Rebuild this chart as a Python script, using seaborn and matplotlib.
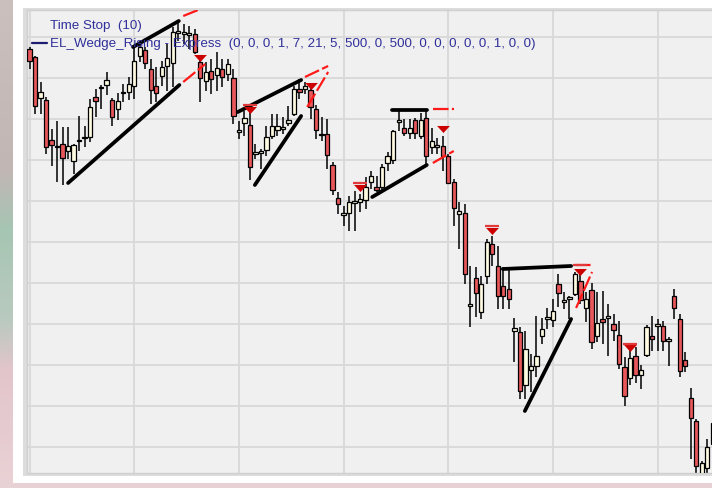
import numpy as np
import pandas as pd
import matplotlib
matplotlib.use('Agg')
import matplotlib.pyplot as plt
from matplotlib.patches import Rectangle
from matplotlib.lines import Line2D
from matplotlib.colors import to_rgb
import seaborn as sns

# OHLC bars (price unit = 1 screen pixel)
opens = [439, 431, 390, 388, 348, 341, 344, 337, 327, 347,
         350, 351, 391, 400, 403, 388, 379, 395, 396, 402,
         432, 438, 419, 402, 412, 422, 425, 455, 454, 453,
         454, 426, 407, 417, 413, 419, 414, 410, 356, 365,
         363, 334, 335, 338, 352, 358, 359, 365, 374, 399,
         399, 398, 379, 353, 354, 323, 290, 273, 275, 285,
         286, 288, 306, 301, 301, 325, 328, 366, 360, 355,
         368, 352, 370, 341, 341, 342, 332, 306, 274, 275,
         182, 210, 176, 212, 244, 222, 202, 199, 157, 156,
         103, 118, 122, 152, 169, 168, 204, 186, 189, 194,
         207, 180, 198, 152, 169, 170, 164, 153, 121, 110,
         132, 113, 133, 152, 162, 162, 147, 192, 169, 128,
         90, 67, 12, 20, 44]
highs = [441, 432, 406, 391, 359, 367, 361, 361, 344, 372,
         362, 389, 399, 403, 416, 390, 395, 404, 411, 442,
         444, 441, 429, 421, 427, 444, 461, 467, 464, 462,
         459, 431, 426, 429, 436, 429, 429, 419, 367, 377,
         377, 344, 339, 362, 374, 374, 371, 382, 402, 409,
         406, 404, 383, 371, 369, 326, 296, 282, 292, 297,
         294, 311, 317, 312, 324, 336, 358, 377, 369, 369,
         370, 375, 377, 360, 350, 352, 334, 309, 286, 284,
         222, 221, 212, 249, 252, 242, 221, 219, 170, 161,
         157, 134, 172, 170, 180, 189, 214, 196, 192, 216,
         217, 196, 205, 196, 197, 184, 174, 167, 131, 141,
         141, 123, 163, 172, 169, 167, 151, 199, 174, 136,
         100, 69, 27, 49, 69]
lows = [419, 374, 374, 334, 322, 306, 303, 329, 314, 337,
        341, 346, 371, 379, 393, 362, 368, 386, 388, 389,
        426, 419, 384, 386, 402, 397, 401, 447, 444, 439,
        434, 386, 397, 394, 397, 401, 407, 364, 349, 352,
        308, 329, 319, 332, 349, 352, 354, 362, 372, 389,
        394, 369, 349, 347, 319, 293, 274, 262, 257, 257,
        276, 279, 299, 296, 297, 317, 324, 357, 352, 349,
        349, 349, 324, 334, 334, 317, 304, 262, 239, 204,
        161, 171, 169, 204, 222, 179, 179, 179, 126, 89,
        89, 96, 111, 144, 159, 161, 181, 179, 169, 192,
        184, 166, 139, 146, 144, 132, 147, 119, 82, 103,
        105, 99, 131, 137, 137, 137, 122, 169, 111, 116,
        29, 14, 12, 12, 39]
closes = [427, 382, 396, 341, 343, 342, 330, 342, 343, 348,
          351, 381, 387, 401, 408, 371, 387, 396, 404, 427,
          441, 425, 398, 395, 421, 430, 456, 457, 456, 455,
          436, 410, 416, 409, 420, 411, 424, 372, 358, 370,
          321, 336, 337, 351, 362, 362, 361, 368, 399, 396,
          402, 381, 358, 354, 333, 298, 284, 275, 286, 287,
          289, 301, 312, 298, 321, 332, 357, 368, 355, 360,
          355, 368, 332, 347, 343, 332, 305, 280, 277, 214,
          184, 195, 204, 246, 234, 192, 192, 189, 160, 97,
          139, 122, 132, 159, 171, 177, 195, 188, 191, 214,
          188, 189, 146, 165, 166, 172, 158, 124, 92, 130,
          113, 118, 161, 149, 164, 147, 149, 180, 117, 122,
          70, 22, 25, 41, 65]

# wedge lines drawn by the strategy (bar index, price)
support_x = [[7, 27.2], [40.9, 49.3], [62.2, 72.1], [89.9, 98.3]]
support_y = [[305, 403], [303, 372], [291, 323], [77, 169]]
resist_x = [[18.8, 27.1], [37.8, 49.3], [65.8, 72.1], [85.9, 98.3]]
resist_y = [[441, 467], [376, 408], [378, 378], [219, 222]]
proj_up_x = [[27.9, 30.6], [50.0, 54.2], [73.2, 77.0], [99.0, 102.3]]
proj_up_y = [[472, 478], [411, 422], [379, 379], [223.5, 223.5]]
proj_lo_x = [[27.9, 31.9], [50.4, 54.2], [73.2, 77.0], [99.2, 102.1]]
proj_lo_y = [[406, 424], [381, 416], [325, 337], [180, 216]]

# short entries (red triangles) and the stop line above some of them
entry_x = [31, 40, 51, 60, 75, 84, 100, 109]
entry_y = [430.5, 378, 402, 300, 359, 257, 216.5, 140]
stop_x = [40, 60, 84, 100, 109]
stop_y = [383, 305, 262, 223, 144]

legend_1 = 'Time Stop  (10)'
legend_2 = 'EL_Wedge_Rising - Express  (0, 0, 0, 1, 7, 21, 5, 500, 0, 500, 0, 0, 0, 0, 0, 1, 0, 0)'

df = pd.DataFrame({'open': opens, 'high': highs, 'low': lows, 'close': closes})
df['bar'] = np.arange(len(df))
df['up'] = df['close'] >= df['open']

sns.set_theme(style='white')
plt.rcParams['font.family'] = ['Liberation Sans', 'DejaVu Sans']

W, H = 712, 489
fig = plt.figure(figsize=(W / 100, H / 100), dpi=100, facecolor='#cdc4c5')

# blurred desktop behind the window (vertical colour blend)
stops_y = [0, 170, 230, 320, 370, 489]
stops_c = ['#cbc0be', '#c2b6b4', '#a6c5b3', '#b9cabf', '#e2c5cb', '#e9d2d5']
rgb = np.array([to_rgb(c) for c in stops_c])
yy = np.arange(H)
grad = np.stack([np.interp(yy, stops_y, rgb[:, k]) for k in range(3)], axis=1)[:, None, :]
bg = fig.add_axes([0, 0, 1, 1], zorder=-20)
bg.imshow(grad, aspect='auto', extent=[0, 1, 0, 1])
bg.axis('off')

# window frame + its shadow
fig.patches.append(Rectangle((13 / W, 1 - 484 / H), 1, 484 / H, transform=fig.transFigure,
                             facecolor='white', edgecolor='none', zorder=-10))
fig.patches.append(Rectangle((23 / W, 1 - 477 / H), 1, 468 / H, transform=fig.transFigure,
                             facecolor='#dcdcdc', edgecolor='none', zorder=-9))

ax = fig.add_axes([27 / W, 1 - 474 / H, (W - 27) / W, 463 / H])
ax.set_facecolor('#f0f0f0')

# grid
for g in [0, 19, 38, 57, 76, 95, 114]:
    ax.axvline(g, color='#d8d8d8', lw=1.3, zorder=0)
for g in range(41, 460, 41):
    ax.axhline(g, color='#d8d8d8', lw=1.3, zorder=0)

# candles
ax.vlines(df['bar'], df['low'], df['high'], color='black', lw=1.1, zorder=2)
body_lo = df[['open', 'close']].min(axis=1)
body_h = (df['close'] - df['open']).abs().clip(lower=1)
colors = np.where(df['up'], '#fdfbe1', '#e8585a')
ax.bar(df['bar'], body_h, bottom=body_lo, width=0.78, color=colors,
       edgecolor='black', linewidth=0.9, zorder=3)

# wedge lines
for xs, ys in zip(support_x + resist_x, support_y + resist_y):
    sns.lineplot(x=xs, y=ys, ax=ax, color='black', lw=2.7, zorder=4,
                 solid_capstyle='round')
for xs, ys in zip(proj_up_x + proj_lo_x, proj_up_y + proj_lo_y):
    ax.plot(xs, ys, color='#ff1a1a', lw=1.6, ls=(0, (7, 1.5)), zorder=4)

# entries
tri = [(-1, 0.55), (1, 0.55), (0, -0.55)]
sns.scatterplot(x=entry_x, y=entry_y, ax=ax, marker=tri, s=85, color='#cc0000',
                edgecolor='#cc0000', linewidth=0, zorder=5)
ax.plot(stop_x, stop_y, ls='none', marker='_', ms=9.5, mew=1.6, color='#e03a3a', zorder=5)

ax.set_xlim(-0.454, 123.87)
ax.set_ylim(15, 478)
ax.set_xticks([])
ax.set_yticks([])
for s in ax.spines.values():
    s.set_color('#cfcfcf')
    s.set_linewidth(1)
ax.spines['right'].set_visible(False)

# legend text
txt_col = '#30309a'
fig.text(50 / W, 1 - 26 / H, legend_1, color=txt_col, fontsize=9.6, va='center', ha='left')
fig.text(50 / W, 1 - 44 / H, legend_2, color=txt_col, fontsize=9.6, va='center', ha='left')
fig.lines.append(Line2D([32 / W, 47 / W], [1 - 44 / H, 1 - 44 / H], transform=fig.transFigure,
                        color='#1c1c70', lw=1.6))

fig.savefig('out.png', dpi=100, facecolor=fig.get_facecolor())
